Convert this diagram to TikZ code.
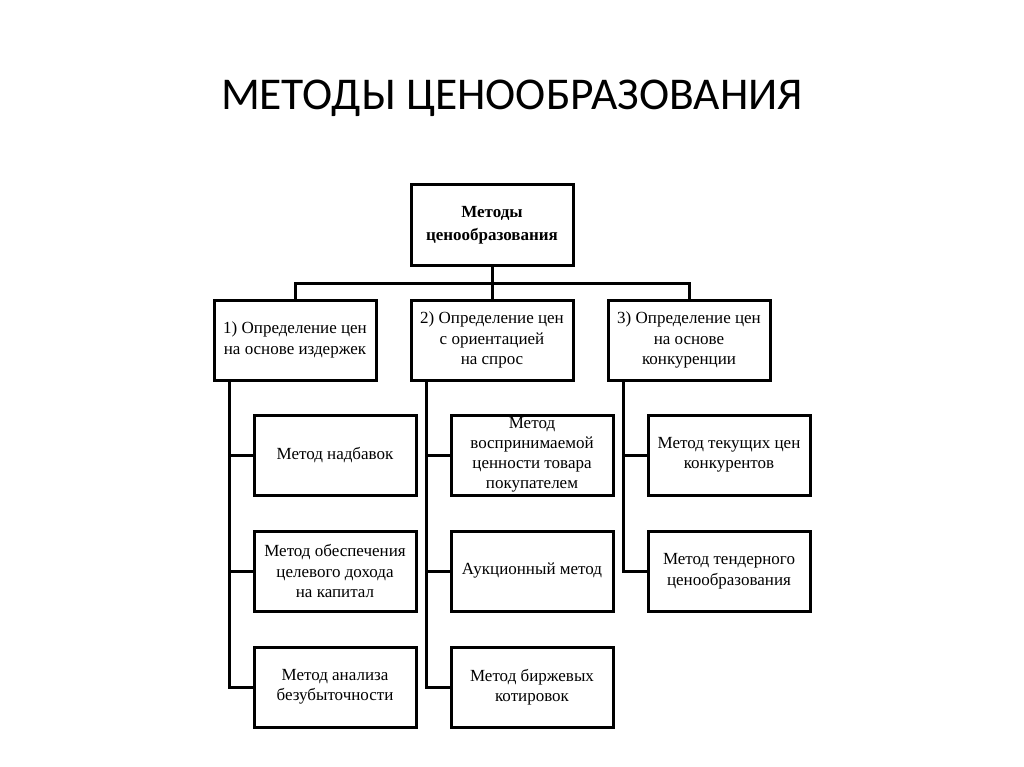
\documentclass[tikz,border=0pt]{standalone}
\usepackage{fontspec}
\setmainfont{Liberation Serif}
\newfontfamily\titlefont{Carlito}
\begin{document}
\begin{tikzpicture}[x=1pt,y=-1pt,
  boxst/.style={draw=black, line width=3pt, minimum width=162pt, minimum height=80pt, inner sep=0pt, align=center, font=\fontsize{17}{20.5}\selectfont},
  conn/.style={line width=3pt, line cap=rect}]
\useasboundingbox (0,0) rectangle (1024,767);
\node[font=\titlefont\fontsize{45.5}{50}\selectfont] (title) at (512,98) {МЕТОДЫ ЦЕНООБРАЗОВАНИЯ};
\node[boxst, font=\bfseries\fontsize{17}{22.5}\selectfont] (top) at (492,225) {Методы\\ценообразования};
\node[boxst] (a) at (295,340) {1) Определение цен\\на основе издержек};
\node[boxst] (b) at (492,340) {2) Определение цен\\с ориентацией\\на спрос};
\node[boxst] (c) at (689,340) {3) Определение цен\\на основе\\конкуренции};
\node[boxst] (a1) at (335,455) {Метод надбавок};
\node[boxst] (a2) at (335,571) {Метод обеспечения\\целевого дохода\\на капитал};
\node[boxst] (a3) at (335,687) {Метод анализа\\безубыточности};
\node[boxst, font=\fontsize{17}{20}\selectfont] (b1) at (532,455) {Метод\\воспринимаемой\\ценности товара\\покупателем};
\node[boxst] (b2) at (532,571) {Аукционный метод};
\node[boxst] (b3) at (532,687) {Метод биржевых\\котировок};
\node[boxst] (c1) at (729,455) {Метод текущих цен\\конкурентов};
\node[boxst] (c2) at (729,571) {Метод тендерного\\ценообразования};
\coordinate (hub) at (492,283);
\draw[conn] (top.south) -- (hub);
\draw[conn] (a.north) |- (hub) -| (c.north);
\draw[conn] (hub) -- (b.north);
\draw[conn] (a.south west) ++(17,0) coordinate (sa) -- (sa |- a3.west) -- (a3.west);
\draw[conn] (sa |- a1.west) -- (a1.west);
\draw[conn] (sa |- a2.west) -- (a2.west);
\draw[conn] (b.south west) ++(17,0) coordinate (sb) -- (sb |- b3.west) -- (b3.west);
\draw[conn] (sb |- b1.west) -- (b1.west);
\draw[conn] (sb |- b2.west) -- (b2.west);
\draw[conn] (c.south west) ++(17,0) coordinate (sc) -- (sc |- c2.west) -- (c2.west);
\draw[conn] (sc |- c1.west) -- (c1.west);
\end{tikzpicture}
\end{document}
